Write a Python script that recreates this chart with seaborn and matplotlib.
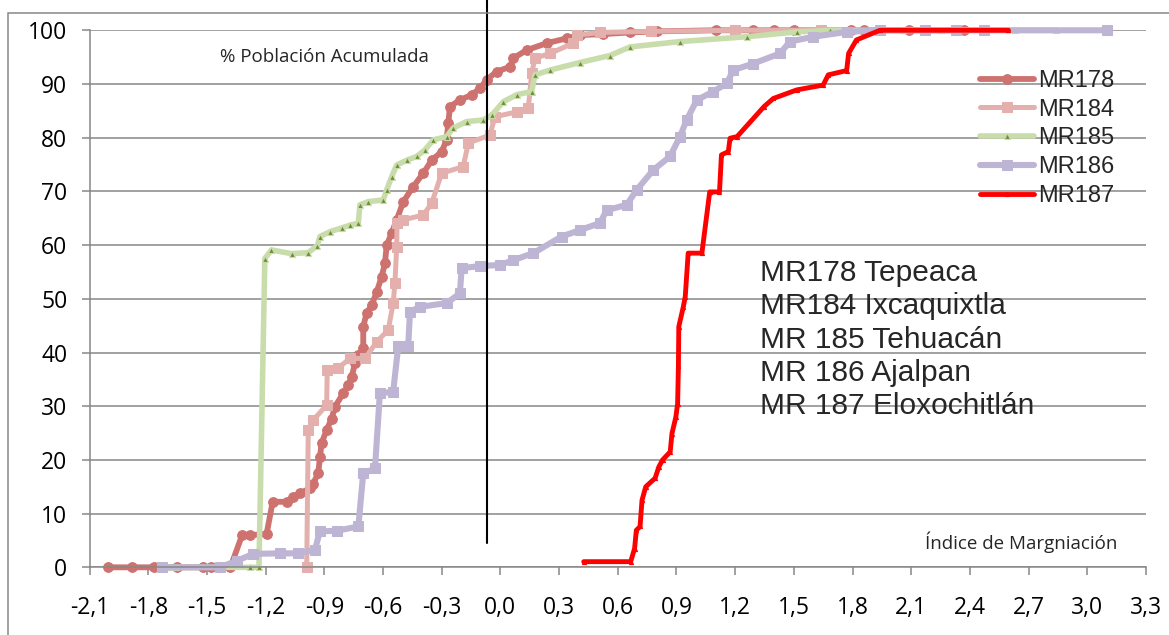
import numpy as np
import pandas as pd
import matplotlib
matplotlib.use("Agg")
import matplotlib.pyplot as plt
import matplotlib.patches as mpatches
from matplotlib.ticker import FuncFormatter
import seaborn as sns

# ---------------------------
# Data
# ---------------------------
MR178_x = [-2.005, -1.885, -1.77, -1.655, -1.52, -1.48, -1.38, -1.32, -1.28, -1.195,
           -1.164, -1.093, -1.059, -1.025, -0.973, -0.957, -0.931, -0.922, -0.914, -0.888,
           -0.862, -0.846, -0.803, -0.778, -0.760, -0.743, -0.726, -0.701, -0.701, -0.684,
           -0.658, -0.632, -0.607, -0.590, -0.581, -0.556, -0.53, -0.496, -0.445, -0.394,
           -0.351, -0.30, -0.275, -0.266, -0.258, -0.207, -0.147, -0.104, -0.07, -0.019,
           0.049, 0.066, 0.134, 0.237, 0.339, 0.407, 0.526, 0.663, 0.80, 1.10,
           1.20, 1.29, 1.40, 1.50, 1.64, 1.79, 1.86, 2.09, 2.33, 2.37]
MR178_y = [0, 0, 0, 0, 0, 0, 0, 6.0, 6.0, 6.2,
           12.2, 12.2, 13.1, 13.8, 14.7, 15.6, 17.5, 20.6, 23.1, 25.6,
           27.7, 29.9, 32.4, 33.9, 35.5, 38.0, 39.5, 40.8, 44.8, 47.3,
           48.8, 51.3, 54.1, 56.6, 60.0, 62.2, 64.7, 68.1, 70.9, 73.4,
           75.8, 77.4, 79.6, 82.7, 85.8, 87.0, 88.0, 89.2, 90.8, 92.3,
           93.2, 94.8, 96.3, 97.6, 98.5, 99.1, 99.3, 99.6, 99.8, 100,
           100, 100, 100, 100, 100, 100, 100, 100, 100, 100]

MR184_x = [-0.99, -0.982, -0.957, -0.888, -0.885, -0.829, -0.769, -0.692, -0.632, -0.573,
           -0.548, -0.539, -0.530, -0.528, -0.496, -0.394, -0.351, -0.30, -0.19, -0.164,
           -0.053, -0.028, 0.083, 0.143, 0.16, 0.177, 0.254, 0.373, 0.39, 0.51,
           0.77, 1.20, 1.64]
MR184_y = [0, 25.6, 27.4, 30.2, 36.7, 37.1, 38.9, 38.9, 42.0, 44.2,
           49.2, 52.9, 59.7, 64.1, 64.7, 65.6, 67.8, 73.4, 74.6, 79.0,
           80.5, 83.9, 84.8, 85.5, 92.0, 94.8, 95.7, 97.6, 99.1, 99.6,
           99.8, 100, 100]

MR185_x = [-1.717, -1.70, -1.66, -1.28, -1.234, -1.204, -1.17, -1.067, -0.982, -0.936,
           -0.922, -0.871, -0.811, -0.769, -0.726, -0.718, -0.675, -0.599, -0.581, -0.556,
           -0.53, -0.479, -0.428, -0.386, -0.343, -0.275, -0.241, -0.172, -0.087, -0.044,
           0.015, 0.083, 0.16, 0.177, 0.254, 0.407, 0.56, 0.663, 0.918, 1.26,
           1.515, 1.685, 2.06, 2.25, 2.63, 2.84]
MR185_y = [0, 0, 0, 0, 0, 57.5, 59.1, 58.4, 58.6, 59.9,
           61.6, 62.5, 63.2, 63.7, 64.1, 67.5, 68.1, 68.4, 70.3, 72.7,
           74.9, 75.8, 76.5, 77.7, 79.6, 80.2, 81.8, 83.0, 83.3, 84.2,
           86.7, 88.0, 88.6, 91.7, 92.6, 94.0, 95.3, 96.9, 97.9, 98.8,
           99.7, 100, 100, 100, 100, 100]

MR186_x = [-1.73, -1.434, -1.348, -1.263, -1.127, -1.033, -0.948, -0.922, -0.837, -0.726,
           -0.701, -0.641, -0.616, -0.548, -0.522, -0.471, -0.462, -0.411, -0.275, -0.207,
           -0.198, -0.104, 0.0, 0.066, 0.168, 0.313, 0.407, 0.509, 0.543, 0.646,
           0.697, 0.782, 0.867, 0.918, 0.952, 1.004, 1.088, 1.157, 1.191, 1.293,
           1.43, 1.48, 1.60, 1.77, 1.94, 2.17, 2.33, 2.47, 3.10]
MR186_y = [0, 0, 1.2, 2.5, 2.6, 2.6, 3.3, 6.7, 6.8, 7.6,
           17.5, 18.4, 32.4, 32.7, 41.2, 41.3, 47.6, 48.5, 49.2, 51.0,
           55.7, 56.1, 56.3, 57.2, 58.5, 61.6, 62.8, 64.1, 66.5, 67.5,
           70.3, 74.0, 76.5, 80.2, 83.3, 87.0, 88.6, 90.1, 92.6, 93.8,
           95.7, 97.9, 98.8, 99.7, 100, 100, 100, 100, 100]

MR187_x = [0.426, 0.666, 0.686, 0.695, 0.714, 0.724, 0.743, 0.791, 0.81, 0.829,
           0.868, 0.877, 0.897, 0.906, 0.91, 0.912, 0.935, 0.945, 0.96, 1.03,
           1.07, 1.12, 1.13, 1.165, 1.174, 1.21, 1.348, 1.395, 1.515, 1.65,
           1.676, 1.77, 1.78, 1.82, 1.94, 2.597]
MR187_y = [1.05, 1.05, 3.5, 6.9, 7.6, 12.5, 15.0, 16.6, 18.7, 20.0,
           21.5, 24.9, 28.0, 30.5, 37.4, 44.8, 48.5, 50.4, 58.5, 58.5,
           69.9, 69.9, 76.8, 77.4, 79.9, 80.2, 85.8, 87.3, 88.9, 89.8,
           91.7, 92.5, 95.7, 98.2, 100, 100]

series_names = ["MR178", "MR184", "MR185", "MR186", "MR187"]
series_x = [MR178_x, MR184_x, MR185_x, MR186_x, MR187_x]
series_y = [MR178_y, MR184_y, MR185_y, MR186_y, MR187_y]

region_lines = ["MR178 Tepeaca", "MR184 Ixcaquixtla", "MR 185 Tehuacán",
                "MR 186 Ajalpan", "MR 187 Eloxochitlán"]

# ---------------------------
# Styles per series
# ---------------------------
styles = {
    "MR178": dict(color="#CE7270", lw=4.2, marker="o", ms=7, mfc="#CE7270", mec="#CE7270"),
    "MR184": dict(color="#E3B0AE", lw=3.6, marker="s", ms=7, mfc="#E3B0AE", mec="#E3B0AE"),
    "MR185": dict(color="#C9DCAB", lw=4.0, marker="^", ms=4.5, mfc="#6E8F32", mec="#C9DCAB", mew=0.8),
    "MR186": dict(color="#BEB5D5", lw=4.4, marker="s", ms=7.5, mfc="#BEB5D5", mec="#BEB5D5"),
    "MR187": dict(color="#FF0000", lw=3.5, marker="^", ms=3, mfc="#FF0000", mec="#FF0000"),
}

GRAY = "#878787"

sns.set_style("white")
plt.rcParams["font.family"] = ["Open Sans", "DejaVu Sans"]

fig = plt.figure(figsize=(11.69, 6.35), dpi=100)
ax = fig.add_axes([0.0766, 0.1066, 0.9037, 0.8457])

for name, xs, ys in zip(series_names, series_x, series_y):
    sns.lineplot(x=xs, y=ys, ax=ax, sort=False, estimator=None,
                 label=name, clip_on=False, **styles[name])

ax.set_xlim(-2.1, 3.3)
ax.set_ylim(0, 100)
ax.set_xticks(np.round(np.arange(-2.1, 3.31, 0.3), 1))
ax.set_yticks(np.arange(0, 101, 10))


def comma_fmt(v, pos):
    v = round(v, 1)
    if abs(v) < 1e-9:
        v = 0.0
    return f"{v:.1f}".replace(".", ",")


ax.xaxis.set_major_formatter(FuncFormatter(comma_fmt))
ax.yaxis.set_major_formatter(FuncFormatter(lambda v, p: f"{int(v)}"))

ax.yaxis.grid(True, color=GRAY, lw=1.1)
ax.xaxis.grid(False)
ax.set_axisbelow(True)
for side in ["top", "right"]:
    ax.spines[side].set_visible(False)
for side in ["left", "bottom"]:
    ax.spines[side].set_color(GRAY)
    ax.spines[side].set_linewidth(1.1)

ax.tick_params(axis="both", which="major", direction="out", length=6, width=1.1,
               color=GRAY, labelsize=16.5, labelcolor="black", bottom=True, left=True)
ax.tick_params(axis="x", pad=15)
ax.tick_params(axis="y", pad=10)

# vertical reference line
ax.axvline(-0.07, ymin=0.045, ymax=1.06, color="black", lw=1.5, clip_on=False, zorder=5)

# axis titles placed inside the plot area
ax.text(-0.9, 95.0, "% Población Acumulada", fontsize=13.5, ha="center", va="center")
ax.text(2.66, 4.6, "Índice de Margniación", fontsize=13.5, ha="center", va="center")

# block of region names
for i, line in enumerate(region_lines):
    ax.text(1.327, 54.8 - 6.2 * i, line, fontsize=21.5, family="Liberation Sans",
            ha="left", va="center")

ax.legend(loc="upper left", bbox_to_anchor=(968 / 1169, 1 - 58 / 635),
          bbox_transform=fig.transFigure, frameon=False, borderpad=0,
          handlelength=2.3, handletextpad=0.15, labelspacing=0.29,
          prop={"family": "Liberation Sans", "size": 17})

# outer chart border
fig.add_artist(mpatches.Rectangle((8 / 1169, -0.1), 1.2, 1.1 - 13 / 635,
                                  transform=fig.transFigure, fill=False,
                                  edgecolor=GRAY, lw=1.1))

fig.savefig("out.png", dpi=100)
